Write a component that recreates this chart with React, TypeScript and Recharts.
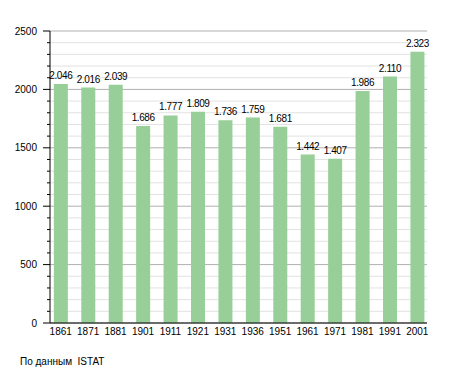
import React from 'react';
import { BarChart, Bar, XAxis, YAxis, CartesianGrid, LabelList } from 'recharts';

const years = ['1861', '1871', '1881', '1901', '1911', '1921', '1931', '1936', '1951', '1961', '1971', '1981', '1991', '2001'];
const population = [2046, 2016, 2039, 1686, 1777, 1809, 1736, 1759, 1681, 1442, 1407, 1986, 2110, 2323];
const majorTicks = [0, 500, 1000, 1500, 2000, 2500];
const allTicks = Array.from({ length: 26 }, (_, i) => i * 100);
const minorTicks = allTicks.filter((t) => t % 500 !== 0);

const data = years.map((y, i) => ({ year: y, value: population[i] }));

const fmt = (v: number) => String(v).replace(/\B(?=(\d{3})+(?!\d))/g, '.');

const FONT = 'Liberation Sans, Arial, sans-serif';

const YTick = (props: any) => {
  const { x, y, payload } = props;
  const v = payload.value as number;
  const major = v % 500 === 0;
  return (
    <g>
      <line x1={x - (major ? 7 : 3)} x2={x} y1={y} y2={y} stroke="#000" strokeWidth={1} />
      {major && (
        <text x={x - 13} y={y} dy="0.355em" textAnchor="end" fontSize={10} fontFamily={FONT} fill="#000">
          {v}
        </text>
      )}
    </g>
  );
};

export default function App() {
  return (
    <div style={{ position: 'absolute', left: 0, top: 0, width: 455, height: 373, background: '#fff' }}>
      <BarChart
        width={455}
        height={373}
        data={data}
        margin={{ top: 31, right: 28, bottom: 30, left: 0 }}
        barCategoryGap="25%"
      >
        <CartesianGrid horizontal vertical={false} horizontalValues={minorTicks} stroke="#e2e2e2" />
        <CartesianGrid horizontal vertical={false} horizontalValues={majorTicks} stroke="#b0b0b0" />
        <XAxis
          dataKey="year"
          interval={0}
          padding={{ left: -3, right: -4 }}
          tickLine={false}
          tickSize={4}
          tickMargin={1}
          axisLine={{ stroke: '#000' }}
          tick={{ fontSize: 10, fontFamily: FONT, fill: '#000' }}
          height={20}
        />
        <YAxis
          width={50}
          domain={[0, 2500]}
          ticks={allTicks}
          interval={0}
          tickLine={false}
          tickSize={0}
          tickMargin={0}
          axisLine={{ stroke: '#000' }}
          tick={<YTick />}
        />
        <Bar dataKey="value" fill="#98ce98" isAnimationActive={false}>
          <LabelList
            dataKey="value"
            position="top"
            offset={5}
            formatter={(v: any) => fmt(Number(v))}
            style={{ fontSize: 10, fontFamily: FONT, fill: '#000', letterSpacing: -0.4 }}
          />
        </Bar>
      </BarChart>
      <div style={{ position: 'absolute', left: 20, top: 356, fontSize: 10, fontFamily: FONT, color: '#000', whiteSpace: 'pre' }}>
        По данным  ISTAT
      </div>
    </div>
  );
}
